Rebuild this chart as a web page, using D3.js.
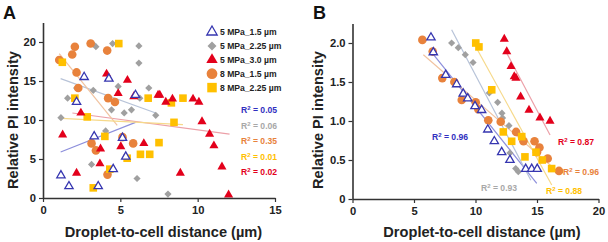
<!DOCTYPE html>
<html>
<head>
<meta charset="utf-8">
<script src="https://cdnjs.cloudflare.com/ajax/libs/d3/7.8.5/d3.min.js"></script>
<style>
  body { margin: 0; background: #fff; }
  svg text { font-family: "Liberation Sans", Arial, sans-serif; font-weight: bold; }
</style>
</head>
<body>
<script>
// series names (legend)
const names = ["5 MPa_1.5 µm", "5 MPa_2.25 µm", "5 MPa_3.0 µm", "8 MPa_1.5 µm", "8 MPa_2.25 µm"];

// panel A ticks
const xTicksA = [0, 5, 10, 15];
const yTicksA = [0, 5, 10, 15, 20];
// panel B ticks
const xTicksB = [0, 5, 10, 15, 20];
const yTicksB = [0, 0.5, 1.0, 1.5, 2.0];

// panel A points  [distance, intensity]
const a5_15 = [[2.66,15.5],[4.26,15.3],[2.17,12.3],[5.98,13.2],[3.31,7.9],[5.14,7.7],[5.35,5.3],[4.54,3.7],[1.16,2.9],[1.68,1.5],[3.57,1.5]];
const a5_225 = [[3.2,19.8],[3.42,19.4],[4.5,19.8],[6.2,19.5],[6.2,17.3],[2.17,14.1],[3.25,13.8],[1.59,12.8],[4.86,14.3],[4.43,11.3],[5.25,10.9],[5.72,11.3],[6.26,12.8],[6.84,14.1],[7.29,10.6],[1.16,10.3],[4.05,8.6],[3.14,4.3],[6.08,2.5],[8.08,0.5]];
const a5_30 = [[4.11,15.9],[5.46,15.1],[4.86,13.4],[5.87,13.0],[7.44,13.2],[2.45,10.9],[1.27,8.1],[3.72,6.3],[5.03,6.6],[6.52,7.0],[3.68,4.4],[2.17,3.2],[7.55,13.2],[7.94,12.3],[8.37,12.7],[9.7,12.7],[10.08,12.3],[10.28,9.8],[10.77,8.2],[11.05,6.7],[11.57,4.0],[8.88,3.2],[12.0,0.4]];
const a8_15 = [[3.08,19.8],[2.06,19.4],[1.89,18.4],[1.05,17.7],[4.15,18.9],[2.17,16.1],[2.28,14.1],[4.21,12.8],[4.65,12.3],[3.14,7.0],[3.42,6.1],[5.14,7.8],[5.83,7.0],[4.17,3.0]];
const a8_225 = [[4.9,19.8],[1.25,17.4],[2.06,12.8],[2.86,10.4],[4.0,7.9],[6.8,12.8],[7.5,7.1],[5.44,5.1],[6.3,5.6],[6.9,5.6],[4.32,3.7],[3.25,1.3],[9.05,12.8],[8.3,12.2],[8.47,9.7]];

// panel A fit lines [x0, y0, x1, y1]
const fitA = [[1.14,5.9,5.98,9.7],[1.14,15.3,7.29,10.9],[1.9,10.9,12.06,8.2],[1.05,18.5,4.8,9.3],[1.2,10.2,9.05,9.4]];
const r2A = ["0.05", "0.06", "0.35", "0.01", "0.02"];

// panel B points
const b5_15 = [[6.38,2.07],[6.57,1.88],[7.58,1.59],[8.47,1.47],[9.0,1.35],[9.37,1.29],[9.96,1.19],[10.5,1.14],[11.0,0.89],[11.53,0.74],[12.13,0.60],[12.8,0.5],[14.08,0.385],[14.57,0.385],[15.02,0.385]];
const b5_225 = [[8.06,2.0],[8.6,1.94],[9.17,1.85],[9.8,1.75],[11.12,1.36],[11.8,1.24],[12.15,1.1],[12.2,1.04],[12.72,0.94],[12.8,0.59],[13.27,0.39],[13.48,0.35]];
const b5_30 = [[12.34,2.05],[12.54,1.89],[12.89,1.70],[13.15,1.57],[13.29,1.55],[13.67,1.31],[14.35,1.14],[15.24,1.04],[16.06,1.0]];
const b8_15 = [[5.68,2.04],[6.52,1.89],[7.3,1.55],[8.28,1.50],[8.88,1.27],[10.02,1.24],[10.23,1.15],[11.04,1.01],[12.05,0.99],[13.3,0.86],[13.9,0.74],[14.8,0.74],[15.2,0.66],[15.0,0.6],[15.87,0.52],[16.79,0.36]];
const b8_225 = [[10.02,2.0],[10.28,1.95],[11.32,1.40],[12.26,0.86],[12.94,0.74],[13.76,0.80],[14.02,0.54],[14.92,0.6],[15.43,0.5],[16.19,0.39]];

// panel B fit lines
const fitB = [[6.49,1.87,14.98,0.2],[8.06,2.17,14.5,0.24],[12.54,1.87,16.06,0.82],[5.76,1.85,16.7,0.35],[10.1,1.93,16.2,0.18]];
const r2B = ["0.96", "0.93", "0.87", "0.96", "0.88"];

const ptColor = ["#3636b0", "#a0a0a0", "#e3001b", "#e8823c", "#ffc000"];
const lnColor = ["#8d8fdc", "#b7c3d8", "#eca0a8", "#f1c3a0", "#f6d98a"];
const txColor = ["#3030c0", "#a8a8a8", "#e3001b", "#e8823c", "#ffc000"];

const svg = d3.select("body").append("svg").attr("width", 608).attr("height", 242);

function shape(g, k, s) {
  if (k === 0) {
    g.append("path").attr("d", d3.symbol(d3.symbolTriangle, 30 * s * s)())
      .attr("fill", "#fff").attr("stroke", ptColor[0]).attr("stroke-width", 1.3);
  } else if (k === 1) {
    g.append("path").attr("d", d3.symbol(d3.symbolSquare, 26 * s * s)())
      .attr("transform", "rotate(45)").attr("fill", ptColor[1]);
  } else if (k === 2) {
    g.append("path").attr("d", d3.symbol(d3.symbolTriangle, 36 * s * s)()).attr("fill", ptColor[2]);
  } else if (k === 3) {
    g.append("circle").attr("r", 4.3 * s).attr("fill", ptColor[3]);
  } else {
    g.append("rect").attr("x", -3.8 * s).attr("y", -3.8 * s).attr("width", 7.6 * s).attr("height", 7.6 * s).attr("fill", ptColor[4]);
  }
}

function panel(x, y, xt, yt, yfmt, series, fits) {
  const xAxis = d3.axisBottom(x).tickValues(xt).tickSize(4).tickSizeOuter(0).tickPadding(4);
  const yAxis = d3.axisLeft(y).tickValues(yt).tickSize(4).tickSizeOuter(0).tickPadding(3).tickFormat(yfmt);

  svg.append("g").selectAll("line").data(fits).enter().append("line")
    .attr("x1", d => x(d[0])).attr("y1", d => y(d[1]))
    .attr("x2", d => x(d[2])).attr("y2", d => y(d[3]))
    .attr("stroke", (d, i) => lnColor[i]).attr("stroke-width", 1.2);

  const order = [1, 3, 4, 2, 0];
  order.forEach(k => {
    svg.append("g").selectAll("g").data(series[k]).enter().append("g")
      .attr("transform", d => "translate(" + x(d[0]) + "," + y(d[1]) + ")")
      .each(function () { shape(d3.select(this), k, 1); });
  });

  [svg.append("g").attr("transform", "translate(0," + y.range()[0] + ")").call(xAxis),
   svg.append("g").attr("transform", "translate(" + x.range()[0] + ",0)").call(yAxis)].forEach(ax => {
    ax.select(".domain").attr("stroke", "#333").attr("stroke-width", 1.6);
    ax.selectAll(".tick line").attr("stroke", "#333").attr("stroke-width", 1.2);
    ax.selectAll(".tick text").attr("fill", "#222").style("font-size", "11.2px")
      .style("font-family", "'Liberation Sans', Arial, sans-serif").style("font-weight", "bold");
  });
}

// R² label with a real superscript
function r2Label(px, py, v, col) {
  const t = svg.append("text").attr("x", px).attr("y", py + 3).style("font-size", "8.6px").attr("fill", col);
  t.append("tspan").text("R");
  t.append("tspan").attr("dy", -3).style("font-size", "6px").text("2");
  t.append("tspan").attr("dy", 3).text(" = " + v);
}

// ---- panel A
const xA = d3.scaleLinear().domain([0, 15]).range([43, 275]);
const yA = d3.scaleLinear().domain([0, 22.5]).range([198, 22.5]);
panel(xA, yA, xTicksA, yTicksA, d3.format("d"), [a5_15, a5_225, a5_30, a8_15, a8_225], fitA);

// ---- panel B
const xB = d3.scaleLinear().domain([0, 20]).range([352.5, 598.5]);
const yB = d3.scaleLinear().domain([0, 2.25]).range([199, 23.5]);
panel(xB, yB, xTicksB, yTicksB, d => d === 0 ? "0" : d3.format(".1f")(d), [b5_15, b5_225, b5_30, b8_15, b8_225], fitB);

// legend
const leg = svg.append("g").attr("transform", "translate(212,32)");
names.forEach((n, i) => {
  const r = leg.append("g").attr("transform", "translate(0," + (i * 13.9) + ")");
  shape(r.append("g"), i, 1.25);
  r.append("text").attr("x", 8).attr("dy", "0.35em").style("font-size", "8.6px").attr("fill", "#222").text(n);
});

// R2 labels, panel A
const r2Ay = [110, 126, 141, 157, 172];
const r2Ac = [0, 1, 3, 4, 2];
r2A.forEach((v, i) => r2Label(241, r2Ay[i], v, txColor[r2Ac[i]]));

// R2 labels, panel B  [x, y, colour index]
const r2Bpos = [[432, 137, 0], [481, 188, 1], [558, 142, 2], [563, 172, 3], [546, 191, 4]];
r2B.forEach((v, i) => r2Label(r2Bpos[i][0], r2Bpos[i][1], v, txColor[r2Bpos[i][2]]));

// axis titles
[[163.5, 12], [482, 317]].forEach(p => {
  svg.append("text").attr("x", p[0]).attr("y", 236.5).attr("text-anchor", "middle")
    .style("font-size", "14.6px").attr("fill", "#222").text("Droplet-to-cell distance (µm)");
  svg.append("text").attr("transform", "translate(" + (p[1] + 5.5) + ",120) rotate(-90)")
    .attr("text-anchor", "middle").style("font-size", "14.6px").attr("fill", "#222").text("Relative PI intensity");
});

// panel letters
svg.append("text").attr("x", 3).attr("y", 19).style("font-size", "18px").attr("fill", "#111").text("A");
svg.append("text").attr("x", 313).attr("y", 19).style("font-size", "18px").attr("fill", "#111").text("B");
</script>
</body>
</html>
